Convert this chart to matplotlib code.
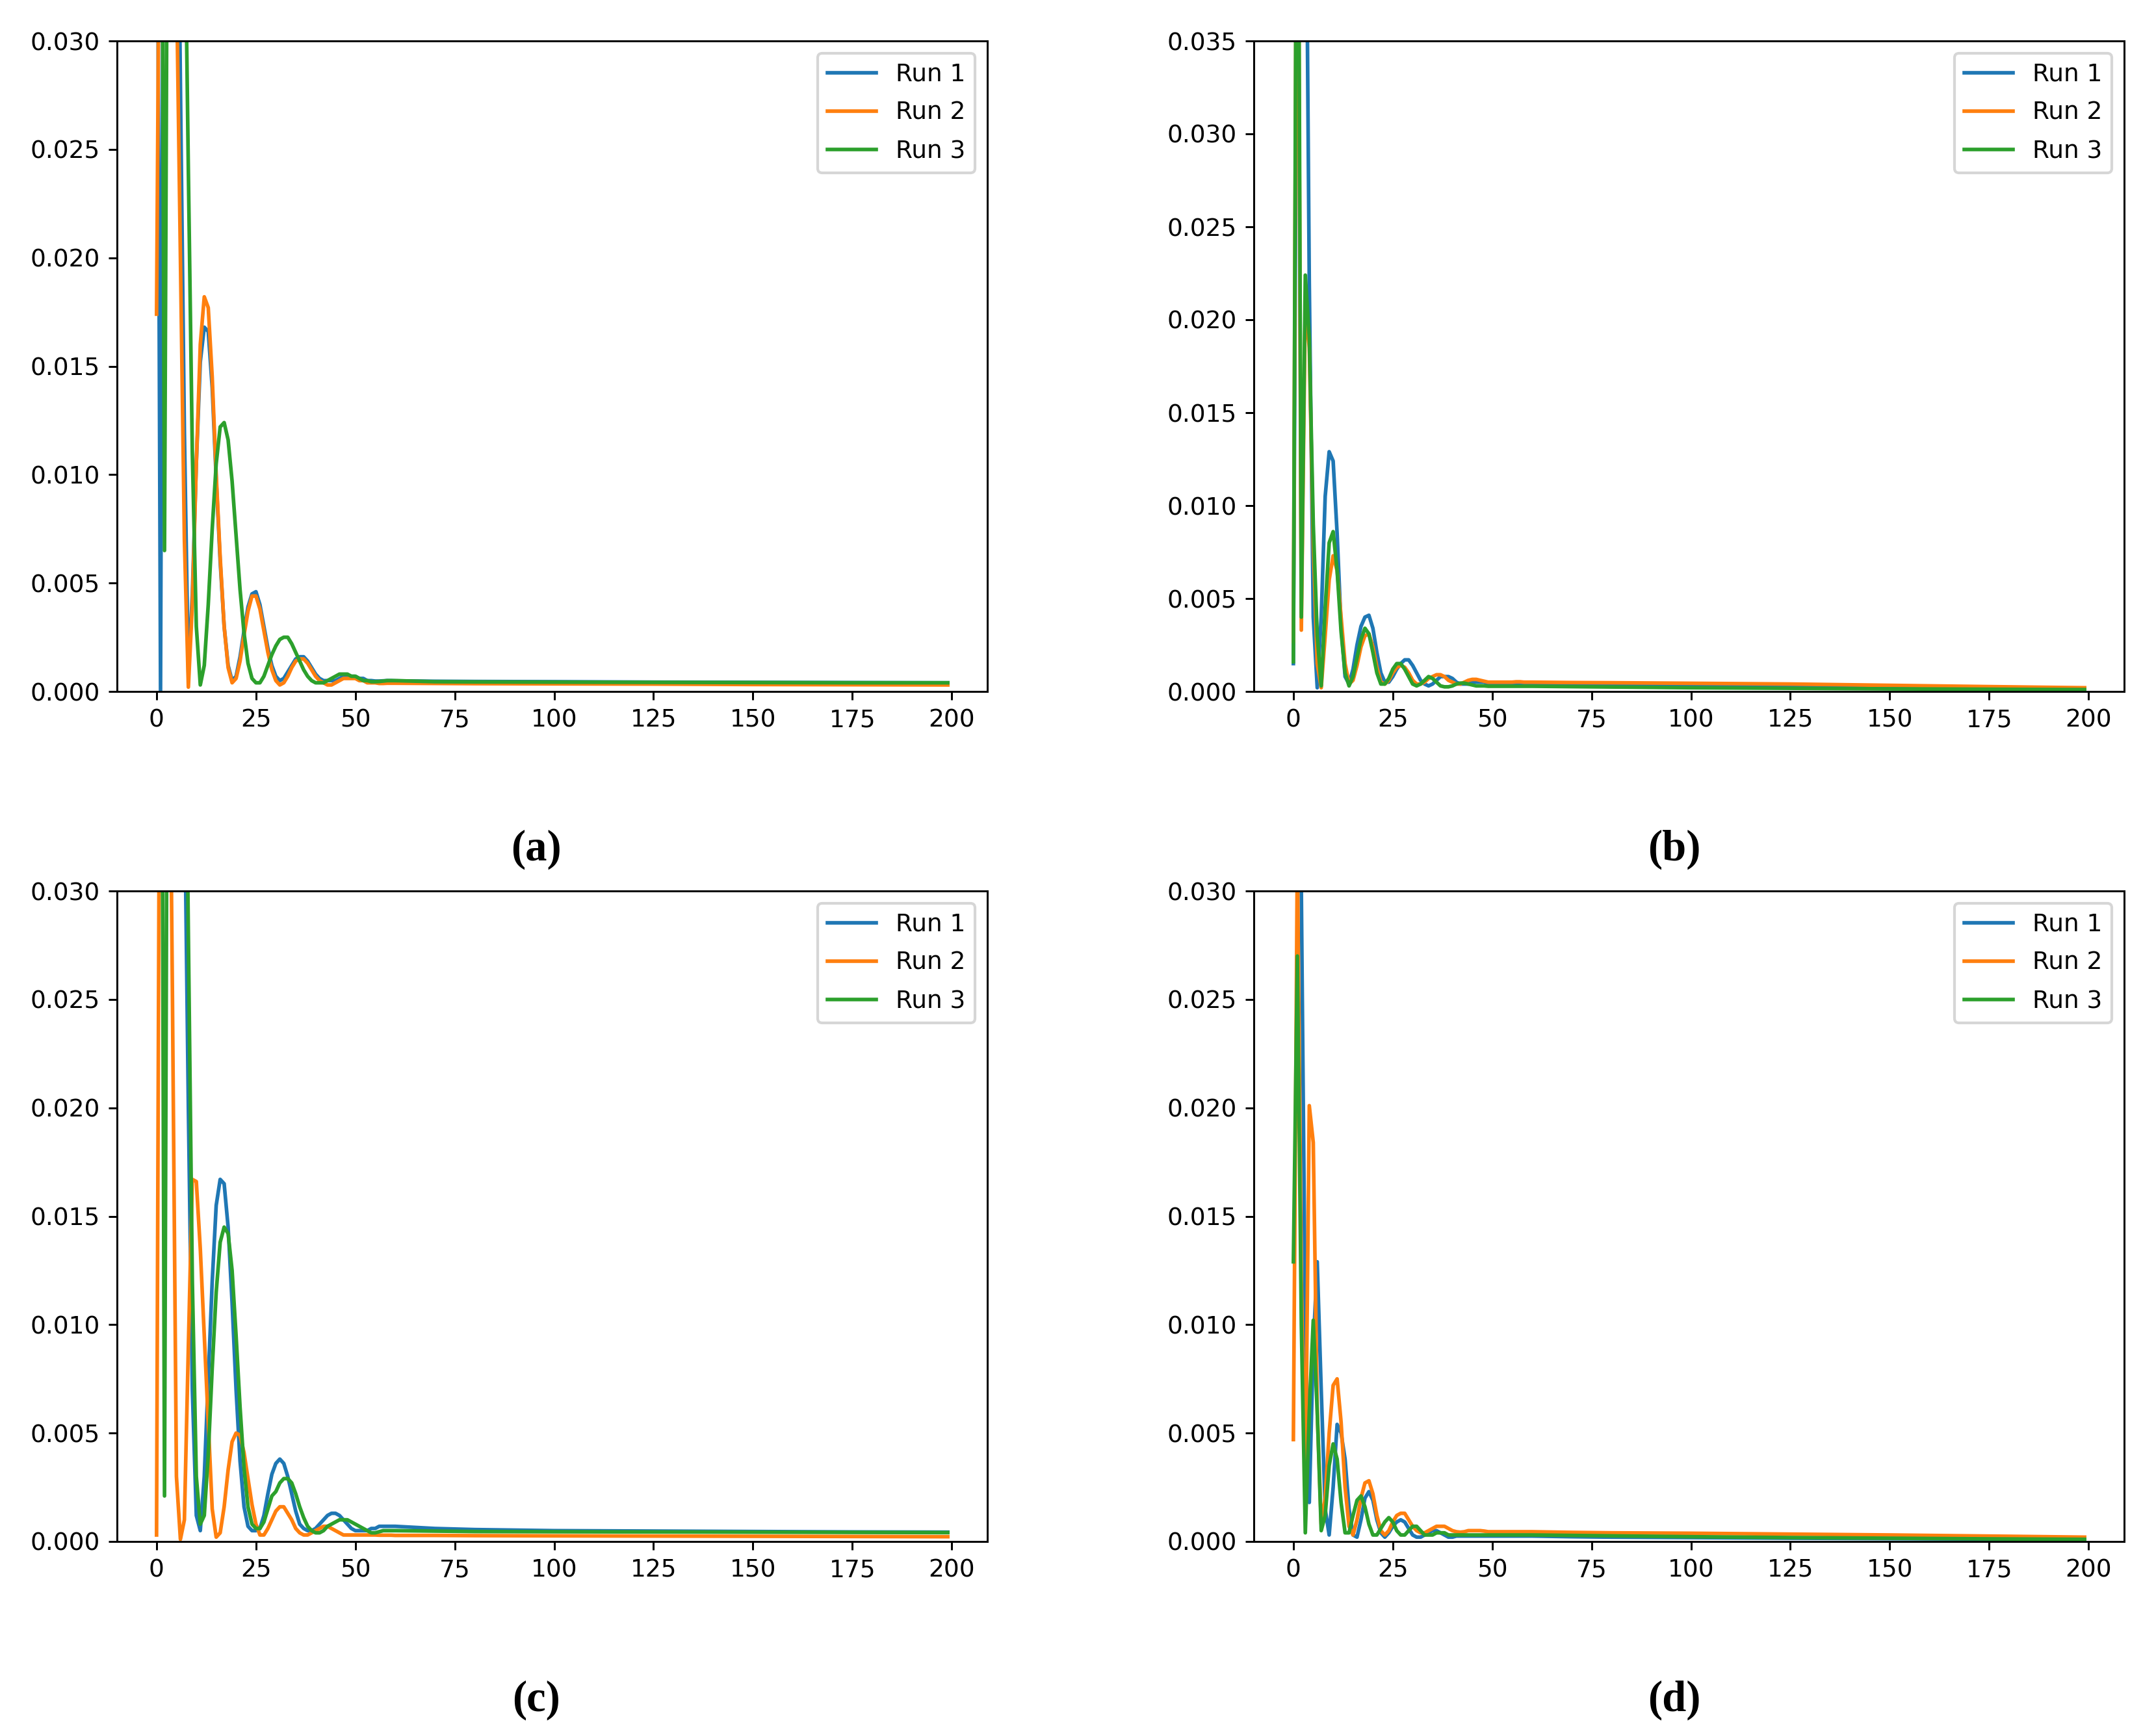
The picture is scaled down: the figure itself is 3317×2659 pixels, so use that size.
import matplotlib
matplotlib.use("Agg")
import matplotlib.pyplot as plt

# sample positions: every step up to 60, then a sparse flat tail
x = list(range(61)) + [70, 80, 100, 125, 150, 175, 199]

# ---- panel (a) ----
a_run1 = [0.05, 0.0, 0.055, 0.065, 0.06, 0.045, 0.028, 0.012, 0.0008, 0.0045,
          0.0105, 0.0152, 0.0168, 0.0166, 0.0140, 0.0098, 0.0060, 0.0030, 0.0012, 0.0005,
          0.0007, 0.0016, 0.0028, 0.0039, 0.0045, 0.0046, 0.0040, 0.0030, 0.0020, 0.0012,
          0.0007, 0.0005, 0.0006, 0.0009, 0.0012, 0.0015, 0.0016, 0.0016, 0.0014, 0.0011,
          0.0008, 0.0006, 0.0005, 0.0005, 0.0005, 0.0005, 0.0006, 0.0007, 0.0007, 0.0007,
          0.0007, 0.0006, 0.0006, 0.0005, 0.0005, 0.00048, 0.00048, 0.00049, 0.0005, 0.0005, 0.00049,
          0.00047, 0.00046, 0.00045, 0.00043, 0.00042, 0.00041, 0.0004]
a_run2 = [0.0174, 0.045, 0.06, 0.055, 0.045, 0.033, 0.020, 0.007, 0.0002, 0.004,
          0.0105, 0.0160, 0.0182, 0.0177, 0.0145, 0.0100, 0.0062, 0.0030, 0.0011, 0.0004,
          0.0006, 0.0014, 0.0026, 0.0037, 0.0044, 0.0044, 0.0038, 0.0028, 0.0018, 0.0010,
          0.0005, 0.0003, 0.0004, 0.0007, 0.0011, 0.0014, 0.0015, 0.0015, 0.0013, 0.0010,
          0.0007, 0.0005, 0.0004, 0.0003, 0.0003, 0.0004, 0.0005, 0.0006, 0.0006, 0.0006,
          0.0006, 0.0005, 0.0005, 0.0004, 0.0004, 0.0004, 0.00037, 0.00037, 0.00038, 0.00038, 0.00038,
          0.00037, 0.00036, 0.00035, 0.00034, 0.00032, 0.00031, 0.0003]
a_run3 = [0.05, 0.06, 0.0065, 0.05, 0.06, 0.065, 0.055, 0.038, 0.024, 0.011,
          0.003, 0.0003, 0.0012, 0.0040, 0.0075, 0.0105, 0.0122, 0.0124, 0.0116, 0.0097,
          0.0072, 0.0047, 0.0027, 0.0013, 0.0006, 0.0004, 0.0004, 0.0007, 0.0012, 0.0017,
          0.0021, 0.0024, 0.0025, 0.0025, 0.0022, 0.0018, 0.0014, 0.0010, 0.0007, 0.0005,
          0.0004, 0.0004, 0.0004, 0.0005, 0.0006, 0.0007, 0.0008, 0.0008, 0.0008, 0.0007,
          0.0007, 0.0006, 0.0005, 0.0005, 0.00045, 0.00045, 0.00046, 0.00048, 0.0005, 0.0005, 0.0005,
          0.00045, 0.00044, 0.00043, 0.00042, 0.00041, 0.0004, 0.0004]

# ---- panel (b) ----
b_run1 = [0.0015, 0.045, 0.06, 0.05, 0.022, 0.004, 0.0002, 0.004, 0.0105, 0.0129,
          0.0124, 0.0085, 0.0035, 0.0008, 0.0004, 0.0012, 0.0025, 0.0035, 0.0040, 0.0041,
          0.0034, 0.0021, 0.0010, 0.0005, 0.0005, 0.0008, 0.0012, 0.0015, 0.0017, 0.0017,
          0.0014, 0.0010, 0.0006, 0.0004, 0.0003, 0.0004, 0.0006, 0.0008, 0.0008, 0.0008,
          0.0007, 0.0005, 0.0004, 0.0004, 0.0004, 0.0005, 0.0005, 0.0005, 0.0005, 0.0004,
          0.0004, 0.0004, 0.0004, 0.0004, 0.00038, 0.00038, 0.00037, 0.00037, 0.00036, 0.00036, 0.00036,
          0.00035, 0.00033, 0.0003, 0.00026, 0.00022, 0.00018, 0.00015]
b_run2 = [0.0027, 0.055, 0.0033, 0.021, 0.0185, 0.008, 0.0015, 0.0002, 0.0030, 0.0060,
          0.0073, 0.0065, 0.0040, 0.0015, 0.0004, 0.0006, 0.0014, 0.0024, 0.0030, 0.0031,
          0.0024, 0.0013, 0.0005, 0.0004, 0.0006, 0.0010, 0.0013, 0.0014, 0.0013, 0.0010,
          0.0006, 0.0004, 0.0004, 0.0005, 0.0007, 0.0008, 0.0009, 0.0009, 0.0008, 0.0006,
          0.0005, 0.0004, 0.0004, 0.0005, 0.0006, 0.00065, 0.00065, 0.0006, 0.00055, 0.0005,
          0.0005, 0.0005, 0.0005, 0.0005, 0.0005, 0.0005, 0.00052, 0.00052, 0.0005, 0.0005, 0.0005,
          0.00048, 0.00047, 0.00044, 0.0004, 0.00033, 0.00026, 0.0002]
b_run3 = [0.0016, 0.06, 0.004, 0.0224, 0.019, 0.009, 0.003, 0.0003, 0.0045, 0.0080,
          0.0086, 0.0065, 0.0032, 0.0010, 0.0003, 0.0008, 0.0018, 0.0028, 0.0034, 0.0031,
          0.0021, 0.0010, 0.0004, 0.0004, 0.0007, 0.0012, 0.0015, 0.0015, 0.0012, 0.0008,
          0.0004, 0.0003, 0.0004, 0.0006, 0.0008, 0.0007, 0.0005, 0.0003, 0.00025, 0.00025,
          0.0003, 0.0004, 0.00045, 0.00045, 0.0004, 0.00035, 0.0003, 0.0003, 0.0003, 0.00028,
          0.00028, 0.00028, 0.00028, 0.00028, 0.00028, 0.00028, 0.00028, 0.00028, 0.00028, 0.00028, 0.00028,
          0.00026, 0.00024, 0.0002, 0.00017, 0.00014, 0.00012, 0.0001]

# ---- panel (c) ----
c_run1 = [0.05, 0.06, 0.055, 0.06, 0.065, 0.06, 0.05, 0.035, 0.02, 0.007,
          0.0012, 0.0005, 0.0030, 0.0075, 0.0120, 0.0155, 0.0167, 0.0165, 0.0145, 0.0110,
          0.0070, 0.0037, 0.0016, 0.0007, 0.0005, 0.0005, 0.0006, 0.0012, 0.0022, 0.0031,
          0.0036, 0.0038, 0.0036, 0.0030, 0.0022, 0.0014, 0.0008, 0.0006, 0.0005, 0.0005,
          0.0006, 0.0008, 0.0010, 0.0012, 0.0013, 0.0013, 0.0012, 0.0010, 0.0008, 0.0006,
          0.0005, 0.0005, 0.0005, 0.0005, 0.0006, 0.0006, 0.0007, 0.0007, 0.0007, 0.0007, 0.0007,
          0.0006, 0.00055, 0.0005, 0.00048, 0.00046, 0.00044, 0.00043]
c_run2 = [0.0003, 0.05, 0.06, 0.045, 0.025, 0.003, 0.0001, 0.001, 0.009, 0.0167,
          0.0166, 0.0135, 0.0095, 0.0055, 0.0015, 0.0002, 0.0004, 0.0016, 0.0033, 0.0046,
          0.0050, 0.0049, 0.0041, 0.0029, 0.0017, 0.0008, 0.0003, 0.0003, 0.0006, 0.0010,
          0.0014, 0.0016, 0.0016, 0.0013, 0.0010, 0.0006, 0.0004, 0.0003, 0.0003, 0.0004,
          0.0005, 0.0006, 0.0007, 0.0007, 0.0006, 0.0005, 0.0004, 0.0003, 0.0003, 0.0003,
          0.0003, 0.0003, 0.0003, 0.0003, 0.0003, 0.0003, 0.00029, 0.00029, 0.00029, 0.00029, 0.00028,
          0.00028, 0.00027, 0.00026, 0.00025, 0.00024, 0.00023, 0.00022]
c_run3 = [0.045, 0.06, 0.0021, 0.055, 0.06, 0.065, 0.06, 0.045, 0.028, 0.012,
          0.003, 0.0008, 0.0012, 0.0040, 0.0080, 0.0115, 0.0138, 0.0145, 0.0142, 0.0125,
          0.0095, 0.0062, 0.0034, 0.0016, 0.0008, 0.0006, 0.0006, 0.0009, 0.0015, 0.0021,
          0.0023, 0.0027, 0.0029, 0.0029, 0.0027, 0.0022, 0.0016, 0.0011, 0.0007, 0.0005,
          0.0004, 0.0004, 0.0005, 0.0007, 0.0008, 0.0009, 0.0010, 0.0010, 0.0010, 0.0009,
          0.0008, 0.0007, 0.0006, 0.0005, 0.0004, 0.0004, 0.00045, 0.0005, 0.0005, 0.0005, 0.0005,
          0.00048, 0.00046, 0.00045, 0.00044, 0.00043, 0.00042, 0.00041]

# ---- panel (d) ----
d_run1 = [0.04, 0.045, 0.03, 0.01, 0.0018, 0.009, 0.0129, 0.007, 0.0015, 0.0003,
          0.0025, 0.0054, 0.0050, 0.0038, 0.0015, 0.0003, 0.0002, 0.0010, 0.0020, 0.0023,
          0.0019, 0.0010, 0.0004, 0.0002, 0.0004, 0.0007, 0.0009, 0.0010, 0.0009, 0.0006,
          0.0003, 0.0002, 0.0002, 0.0003, 0.0004, 0.0005, 0.0005, 0.0004, 0.0003, 0.0002,
          0.0002, 0.00025, 0.00025, 0.00025, 0.00025, 0.00025, 0.00025, 0.00025, 0.00025, 0.00025,
          0.00025, 0.00025, 0.00025, 0.00025, 0.00025, 0.00025, 0.00025, 0.00025, 0.00025, 0.00025, 0.00025,
          0.00022, 0.0002, 0.00018, 0.00015, 0.00013, 0.00011, 0.0001]
d_run2 = [0.0047, 0.032, 0.012, 0.002, 0.0201, 0.0184, 0.006, 0.0008, 0.002, 0.0050,
          0.0072, 0.0075, 0.0055, 0.0025, 0.0007, 0.0003, 0.0010, 0.0020, 0.0027, 0.0028,
          0.0022, 0.0012, 0.0005, 0.0003, 0.0005, 0.0009, 0.0012, 0.0013, 0.0013, 0.0010,
          0.0007, 0.0005, 0.0004, 0.0004, 0.0005, 0.0006, 0.0007, 0.0007, 0.0007, 0.0006,
          0.0005, 0.00045, 0.00043, 0.00045, 0.0005, 0.0005, 0.0005, 0.0005, 0.00048, 0.00045,
          0.00045, 0.00045, 0.00045, 0.00045, 0.00045, 0.00045, 0.00045, 0.00045, 0.00045, 0.00045, 0.00045,
          0.00042, 0.0004, 0.00038, 0.00034, 0.0003, 0.00025, 0.0002]
d_run3 = [0.0129, 0.027, 0.010, 0.0004, 0.006, 0.0102, 0.006, 0.0005, 0.0012, 0.0035,
          0.0045, 0.0038, 0.0018, 0.0004, 0.0004, 0.0012, 0.0019, 0.0021, 0.0016, 0.0008,
          0.0003, 0.0003, 0.0006, 0.0009, 0.0011, 0.0009, 0.0005, 0.0003, 0.0003, 0.0005,
          0.0007, 0.0007, 0.0005, 0.0003, 0.0003, 0.0003, 0.0004, 0.0004, 0.0004, 0.0003,
          0.0003, 0.0003, 0.0003, 0.0003, 0.0003, 0.0003, 0.0003, 0.0003, 0.0003, 0.0003,
          0.0003, 0.0003, 0.0003, 0.0003, 0.0003, 0.0003, 0.0003, 0.0003, 0.0003, 0.0003, 0.0003,
          0.00028, 0.00026, 0.00022, 0.00018, 0.00015, 0.00012, 0.0001]

labels = ["Run 1", "Run 2", "Run 3"]
captions = ["(a)", "(b)", "(c)", "(d)"]
runs = [(a_run1, a_run2, a_run3), (b_run1, b_run2, b_run3),
        (c_run1, c_run2, c_run3), (d_run1, d_run2, d_run3)]
ytops = [0.030, 0.035, 0.030, 0.030]

# the panels were saved at ~2.7x a default 100 dpi figure, so scale sizes
plt.rcParams["font.size"] = 9
plt.rcParams["lines.linewidth"] = 1.35
plt.rcParams["axes.linewidth"] = 0.72
for ax_name in ["xtick", "ytick"]:
    plt.rcParams[ax_name + ".major.width"] = 0.72
    plt.rcParams[ax_name + ".major.size"] = 3.15
    plt.rcParams[ax_name + ".major.pad"] = 3.15
plt.rcParams["legend.fontsize"] = 9
plt.rcParams["legend.labelspacing"] = 0.62

fig = plt.figure(figsize=(3317 / 300, 2659 / 300), dpi=300)

# axes boxes in pixels: left, top (from figure top)
W, H = 3317, 2659
boxes = [(180, 63), (1929, 63), (180, 1371), (1929, 1371)]
ax_w, ax_h = 1339, 1001
caption_pos = [(825, 1307), (2576, 1307), (825, 2616), (2576, 2616)]

for i in range(4):
    left, top = boxes[i]
    ax = fig.add_axes([left / W, 1 - (top + ax_h) / H, ax_w / W, ax_h / H])
    for y, lab in zip(runs[i], labels):
        ax.plot(x, y, label=lab)
    ax.set_ylim(0, ytops[i])
    ax.set_xticks([0, 25, 50, 75, 100, 125, 150, 175, 200])
    ax.legend(loc="upper right")

    cx, cy = caption_pos[i]
    fig.text(cx / W, 1 - cy / H, captions[i], ha="center", va="center",
             fontsize=16, fontweight="bold", family="Liberation Serif")

fig.savefig("out.png", dpi=300)
